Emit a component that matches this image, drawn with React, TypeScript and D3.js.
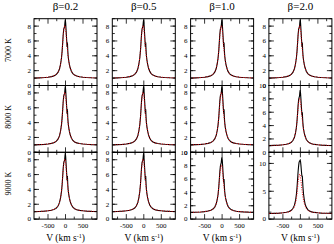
import * as d3 from "d3"

// velocity grid (km/s)
const velocity = [-900, -750, -600, -500, -400, -320, -260, -210, -170, -140, -115, -95, -80, -65, -50, -38, -26, -15, -5, 5, 15, 25, 35, 45, 55, 65, 75, 90, 110, 135, 170, 210, 260, 320, 400, 500, 600, 750, 900]

// red dotted profile
const observedFlux = [1.0, 1.03, 1.07, 1.12, 1.2, 1.32, 1.5, 1.8, 2.25, 2.9, 3.7, 4.7, 5.7, 6.7, 7.4, 7.8, 8.05, 8.1, 7.9, 7.5, 7.0, 6.4, 5.8, 5.3, 4.8, 4.3, 3.9, 3.4, 2.85, 2.35, 1.9, 1.6, 1.4, 1.27, 1.18, 1.12, 1.08, 1.04, 1.02]

// black profiles
const modelLow = [1.0, 1.03, 1.07, 1.12, 1.2, 1.32, 1.5, 1.8, 2.25, 2.9, 3.7, 4.7, 5.8, 6.9, 7.6, 7.8, 7.9, 8.5, 8.9, 8.4, 7.6, 6.8, 6.0, 5.2, 5.8, 4.7, 4.0, 3.4, 2.85, 2.35, 1.9, 1.6, 1.4, 1.27, 1.18, 1.12, 1.08, 1.04, 1.02]
const modelMid = [1.0, 1.03, 1.07, 1.12, 1.2, 1.32, 1.5, 1.8, 2.25, 2.9, 3.7, 4.8, 5.9, 7.1, 7.9, 8.2, 8.4, 9.0, 9.3, 8.8, 8.0, 7.1, 6.3, 5.5, 6.0, 4.9, 4.1, 3.45, 2.9, 2.4, 1.92, 1.62, 1.42, 1.28, 1.18, 1.12, 1.08, 1.04, 1.02]
const modelHigh = [1.0, 1.03, 1.07, 1.13, 1.22, 1.36, 1.58, 1.95, 2.5, 3.3, 4.4, 5.8, 7.2, 8.6, 9.6, 10.2, 10.4, 10.5, 10.6, 10.3, 9.7, 8.9, 8.2, 7.6, 7.8, 6.6, 5.6, 4.5, 3.5, 2.7, 2.1, 1.7, 1.45, 1.3, 1.2, 1.13, 1.08, 1.04, 1.02]

const betaLabels = ["β=0.2", "β=0.5", "β=1.0", "β=2.0"]
const tempLabels = ["7000 K", "8000 K", "9000 K"]
const xTicks = [-500, 0, 500]

// per panel [row][col]
const panelModel = [[0, 0, 0, 0], [0, 0, 0, 1], [0, 0, 1, 2]]
const panelYMax = [[9, 9, 9, 9], [9, 9, 9, 10], [9, 9, 10, 12]]
const panelYStep = [[2, 2, 2, 2], [2, 2, 2, 2], [2, 2, 2, 5]]
const panelYMinor = [[1, 1, 1, 1], [1, 1, 1, 1], [1, 1, 1, 1.25]]

const models = [modelLow, modelMid, modelHigh]

const left0 = 34
const colStep = 78.3
const panelW = 63
const top0 = 18.7
const rowH = 66.8
const font = "'Liberation Serif', 'DejaVu Serif', serif"

const App = () => {
  const x = d3.scaleLinear().domain([-900, 900]).range([0, panelW])
  const xMinor = d3.range(-750, 751, 250)

  const panels = []
  for (let r = 0; r < 3; r++) {
    for (let c = 0; c < 4; c++) {
      const yMax = panelYMax[r][c]
      const y = d3.scaleLinear().domain([0, yMax]).range([rowH, 0])
      const majors = d3.range(0, yMax + 1e-6, panelYStep[r][c])
      const minors = d3.range(0, yMax + 1e-6, panelYMinor[r][c])
      const line = d3.line().x((d) => x(d[0])).y((d) => y(d[1]))
      const model = models[panelModel[r][c]]
      const blackPts = velocity.map((v, i) => [v, model[i]])
      const redPts = velocity.map((v, i) => [v, observedFlux[i]])
      const id = `clip-${r}-${c}`
      panels.push(
        <g key={id} transform={`translate(${left0 + c * colStep}, ${top0 + r * rowH})`}>
          <clipPath id={id}>
            <rect x={0} y={0} width={panelW} height={rowH} />
          </clipPath>
          <g clipPath={`url(#${id})`}>
            <path d={line(blackPts)} fill="none" stroke="#000" strokeWidth={1.1} />
            <path d={line(redPts)} fill="none" stroke="#e8000b" strokeWidth={1} strokeDasharray="1 1.4" />
          </g>
          {/* y ticks, both sides */}
          {minors.map((t) => (
            <g key={"ym" + t}>
              <line x1={0} x2={2.5} y1={y(t)} y2={y(t)} stroke="#000" strokeWidth={0.8} />
              <line x1={panelW} x2={panelW - 2.5} y1={y(t)} y2={y(t)} stroke="#000" strokeWidth={0.8} />
            </g>
          ))}
          {majors.map((t) => (
            <g key={"yM" + t}>
              <line x1={0} x2={5} y1={y(t)} y2={y(t)} stroke="#000" strokeWidth={0.8} />
              <line x1={panelW} x2={panelW - 5} y1={y(t)} y2={y(t)} stroke="#000" strokeWidth={0.8} />
              <text x={-3} y={y(t) + 2.4} textAnchor="end" fontSize={7} fontFamily={font}>{t}</text>
            </g>
          ))}
          {/* x ticks, top and bottom */}
          {xMinor.map((t) => {
            const len = xTicks.includes(t) ? 5 : 2.5
            return (
              <g key={"x" + t}>
                <line x1={x(t)} x2={x(t)} y1={rowH} y2={rowH - len} stroke="#000" strokeWidth={0.8} />
                <line x1={x(t)} x2={x(t)} y1={0} y2={len} stroke="#000" strokeWidth={0.8} />
              </g>
            )
          })}
          {r === 2 &&
            xTicks.map((t) => (
              <text key={"xl" + t} x={x(t)} y={rowH + 9} textAnchor="middle" fontSize={7} fontFamily={font}>
                {t === 0 ? "0" : t < 0 ? "-500" : "500"}
              </text>
            ))}
          {r === 2 && (
            <text x={panelW / 2} y={rowH + 22} textAnchor="middle" fontSize={9.5} fontFamily={font}>
              V (km s<tspan dy={-3.5} fontSize={6}>-1</tspan><tspan dy={3.5}>)</tspan>
            </text>
          )}
          {r === 0 && (
            <text x={panelW / 2} y={-8.5} textAnchor="middle" fontSize={11} fontFamily={font}>
              {betaLabels[c]}
            </text>
          )}
          <rect x={0} y={0} width={panelW} height={rowH} fill="none" stroke="#000" strokeWidth={1} />
        </g>
      )
    }
  }

  return (
    <svg width={334} height={244} style={{ position: "absolute", left: 0, top: 0, background: "#fff" }}>
      {panels}
      {tempLabels.map((t, i) => (
        <text
          key={t}
          transform={`translate(11, ${top0 + i * rowH + rowH / 2 - 2}) rotate(-90)`}
          textAnchor="middle"
          fontSize={8}
          fontFamily={font}
        >
          {t}
        </text>
      ))}
    </svg>
  )
}

export default App
